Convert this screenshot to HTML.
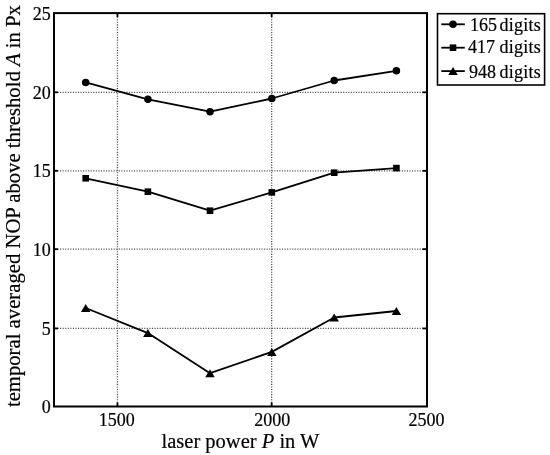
<!DOCTYPE html>
<html><head><meta charset="utf-8"><style>
html,body{margin:0;padding:0;background:#fff;}
svg{display:block;font-family:"Liberation Serif",serif;will-change:transform;}
text{stroke:#000;stroke-width:0.2px;}
</style></head><body>
<svg width="550" height="455" viewBox="0 0 550 455">
<line x1="117.45" y1="14.1" x2="117.45" y2="405.5" stroke="#000" stroke-width="1.3" stroke-dasharray="1.1,1.45" stroke-opacity="0.7"/>
<line x1="271.65" y1="14.1" x2="271.65" y2="405.5" stroke="#000" stroke-width="1.3" stroke-dasharray="1.1,1.45" stroke-opacity="0.7"/>
<line x1="55.0" y1="328.45" x2="426.0" y2="328.45" stroke="#000" stroke-width="1.3" stroke-dasharray="1.1,1.45" stroke-opacity="0.7"/>
<line x1="55.0" y1="249.20" x2="426.0" y2="249.20" stroke="#000" stroke-width="1.3" stroke-dasharray="1.1,1.45" stroke-opacity="0.7"/>
<line x1="55.0" y1="170.80" x2="426.0" y2="170.80" stroke="#000" stroke-width="1.3" stroke-dasharray="1.1,1.45" stroke-opacity="0.7"/>
<line x1="55.0" y1="92.30" x2="426.0" y2="92.30" stroke="#000" stroke-width="1.3" stroke-dasharray="1.1,1.45" stroke-opacity="0.7"/>
<line x1="117.45" y1="406.5" x2="117.45" y2="402.5" stroke="#000" stroke-width="1.8"/>
<line x1="117.45" y1="13.1" x2="117.45" y2="17.1" stroke="#000" stroke-width="1.8"/>
<line x1="271.65" y1="406.5" x2="271.65" y2="402.5" stroke="#000" stroke-width="1.8"/>
<line x1="271.65" y1="13.1" x2="271.65" y2="17.1" stroke="#000" stroke-width="1.8"/>
<line x1="54.0" y1="328.45" x2="58.0" y2="328.45" stroke="#000" stroke-width="1.8"/>
<line x1="427.0" y1="328.45" x2="422.5" y2="328.45" stroke="#000" stroke-width="1.8"/>
<line x1="54.0" y1="249.20" x2="58.0" y2="249.20" stroke="#000" stroke-width="1.8"/>
<line x1="427.0" y1="249.20" x2="422.5" y2="249.20" stroke="#000" stroke-width="1.8"/>
<line x1="54.0" y1="170.80" x2="58.0" y2="170.80" stroke="#000" stroke-width="1.8"/>
<line x1="427.0" y1="170.80" x2="422.5" y2="170.80" stroke="#000" stroke-width="1.8"/>
<line x1="54.0" y1="92.30" x2="58.0" y2="92.30" stroke="#000" stroke-width="1.8"/>
<line x1="427.0" y1="92.30" x2="422.5" y2="92.30" stroke="#000" stroke-width="1.8"/>
<rect x="54.0" y="13.1" width="373.0" height="393.4" fill="none" stroke="#000" stroke-width="2"/>
<polyline points="85.70,82.40 147.90,99.30 210.00,111.70 271.80,98.50 334.20,80.50 396.40,70.80" fill="none" stroke="#000" stroke-width="1.8" stroke-linejoin="round"/>
<polyline points="85.70,178.30 147.90,191.70 210.00,210.70 271.80,192.40 334.20,172.70 396.40,168.10" fill="none" stroke="#000" stroke-width="1.8" stroke-linejoin="round"/>
<polyline points="85.70,308.00 147.90,333.10 210.00,373.20 271.80,351.90 334.20,317.50 396.40,311.00" fill="none" stroke="#000" stroke-width="1.8" stroke-linejoin="round"/>
<circle cx="85.70" cy="82.40" r="3.75" fill="#000"/>
<circle cx="147.90" cy="99.30" r="3.75" fill="#000"/>
<circle cx="210.00" cy="111.70" r="3.75" fill="#000"/>
<circle cx="271.80" cy="98.50" r="3.75" fill="#000"/>
<circle cx="334.20" cy="80.50" r="3.75" fill="#000"/>
<circle cx="396.40" cy="70.80" r="3.75" fill="#000"/>
<rect x="82.40" y="175.00" width="6.6" height="6.6" fill="#000"/>
<rect x="144.60" y="188.40" width="6.6" height="6.6" fill="#000"/>
<rect x="206.70" y="207.40" width="6.6" height="6.6" fill="#000"/>
<rect x="268.50" y="189.10" width="6.6" height="6.6" fill="#000"/>
<rect x="330.90" y="169.40" width="6.6" height="6.6" fill="#000"/>
<rect x="393.10" y="164.80" width="6.6" height="6.6" fill="#000"/>
<polygon points="85.70,304.00 90.45,312.00 80.95,312.00" fill="#000"/>
<polygon points="147.90,329.10 152.65,337.10 143.15,337.10" fill="#000"/>
<polygon points="210.00,369.20 214.75,377.20 205.25,377.20" fill="#000"/>
<polygon points="271.80,347.90 276.55,355.90 267.05,355.90" fill="#000"/>
<polygon points="334.20,313.50 338.95,321.50 329.45,321.50" fill="#000"/>
<polygon points="396.40,307.00 401.15,315.00 391.65,315.00" fill="#000"/>
<text x="50.7" y="413.20" text-anchor="end" font-size="18">0</text>
<text x="50.7" y="334.75" text-anchor="end" font-size="18">5</text>
<text x="50.7" y="255.50" text-anchor="end" font-size="18">10</text>
<text x="50.7" y="177.10" text-anchor="end" font-size="18">15</text>
<text x="50.7" y="98.60" text-anchor="end" font-size="18">20</text>
<text x="50.7" y="19.80" text-anchor="end" font-size="18">25</text>
<text x="116.7" y="426" text-anchor="middle" font-size="18">1500</text>
<text x="272.2" y="426" text-anchor="middle" font-size="18">2000</text>
<text x="426.5" y="426" text-anchor="middle" font-size="18">2500</text>
<text x="240.5" y="448.4" text-anchor="middle" font-size="20.5">laser power <tspan font-style="italic">P</tspan> in W</text>
<text transform="translate(19.9,206.1) rotate(-90)" text-anchor="middle" font-size="20.7">temporal averaged NOP above threshold <tspan font-style="italic">A</tspan> in Px</text>
<rect x="437.5" y="13.7" width="107.10000000000002" height="71.3" fill="#fff" stroke="#000" stroke-width="1.6"/>
<line x1="441.3" y1="24.3" x2="464.8" y2="24.3" stroke="#000" stroke-width="1.8"/>
<circle cx="453.0" cy="24.3" r="3.75" fill="#000"/>
<text x="469.9" y="30.7" font-size="18">165</text>
<text x="499.4" y="30.7" font-size="18" letter-spacing="0.25">digits</text>
<line x1="441.3" y1="47.7" x2="464.8" y2="47.7" stroke="#000" stroke-width="1.8"/>
<rect x="449.7" y="44.400000000000006" width="6.6" height="6.6" fill="#000"/>
<text x="467.9" y="52.6" font-size="18">417</text>
<text x="499.4" y="52.6" font-size="18" letter-spacing="0.25">digits</text>
<line x1="441.3" y1="71.1" x2="464.8" y2="71.1" stroke="#000" stroke-width="1.8"/>
<polygon points="453.00,67.10 457.75,75.10 448.25,75.10" fill="#000"/>
<text x="469.0" y="78.2" font-size="18">948</text>
<text x="499.4" y="78.2" font-size="18" letter-spacing="0.25">digits</text>
</svg>
</body></html>
